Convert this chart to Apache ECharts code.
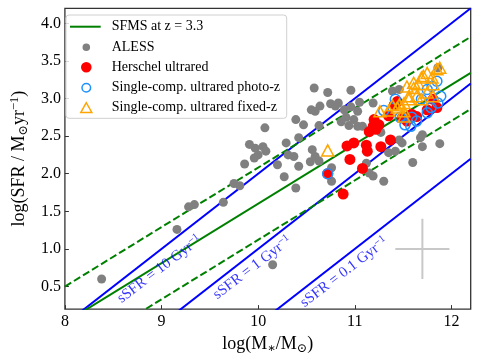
<!DOCTYPE html>
<html>
<head>
<meta charset="utf-8">
<script src="https://cdn.jsdelivr.net/npm/echarts@6/dist/echarts.min.js"></script>
<style>html,body{margin:0;padding:0;background:#fff}#c{width:480px;height:360px}</style>
</head>
<body>
<div id="c"></div>
<script>
// ---- tick labels ----
const xTicks = [8, 9, 10, 11, 12];
const yTicks = [0.5, 1.0, 1.5, 2.0, 2.5, 3.0, 3.5, 4.0];

// ---- reference lines (endpoints at x = 8 and x = 12.2) ----
const lineX = [8, 12.2];
const sfmsY = [0.02, 3.34];
const sfmsUpperY = [0.50, 3.82];
const sfmsLowerY = [-0.46, 2.86];
const ssfr10Y = [0.0, 4.2];
const ssfr1Y = [-1.0, 3.2];
const ssfr01Y = [-2.0, 2.2];

// ---- sSFR annotation labels ----
const ssfrLabelText = ['10', '1', '0.1'];
const ssfrLabelX = [8.98, 9.94, 10.89];
const ssfrLabelY = [0.73, 0.75, 0.69];

// ---- representative error bar ----
const errCenter = [11.70, 1.00];
const errHalf = [0.28, 0.40];

// ---- ALESS ----
const alessX = [8.38,9.16,9.28,9.34,9.64,9.75,9.81,9.86,9.91,9.96,
  10.07,10.15,10.58,10.72,10.96,10.55,10.59,10.39,10.47,10.29,
  10.05,10.08,10.00,9.97,10.20,10.27,10.42,10.54,10.39,10.76,10.76,
  11.12,11.19,11.30,11.35,11.42,10.83,11.19,11.39,
  10.89,10.96,11.03,10.91,10.99,10.94,11.03,10.86,
  11.05,10.75,10.80,10.64,10.63,10.42,10.56,10.63,10.31,10.37,
  11.49,11.70,11.70,11.88,11.60,11.15,11.27,11.86,11.46,11.68,11.08,11.46,10.59];
const alessY = [0.60,1.26,1.56,1.59,1.62,1.87,1.84,2.13,2.39,2.21,
  2.61,0.79,3.14,3.08,3.11,2.85,2.83,2.72,2.65,2.41,
  2.36,2.30,2.25,2.34,2.12,1.96,2.10,2.16,1.81,2.08,1.90,
  2.14,1.97,1.90,2.28,2.30,2.94,2.94,3.10,
  2.85,2.89,2.83,2.75,2.72,2.64,2.63,2.69,
  2.95,2.93,2.90,2.90,2.64,2.48,2.32,2.17,2.25,2.23,
  2.41,2.52,2.36,2.40,2.15,2.01,2.55,3.41,3.12,2.48,2.63,2.45,2.23];

// ---- Herschel ultrared ----
const herschelX = [10.72,10.95,11.08,10.88,10.92,10.99,11.12,11.13,11.27,11.37,
  11.15,11.19,11.22,11.25,11.20,11.41,11.44,11.59,11.64,11.75,
  11.85,11.49,11.54,11.81,11.35];
const herschelY = [2.00,2.19,2.07,1.73,2.37,2.41,2.38,2.30,2.36,2.45,
  2.56,2.63,2.59,2.65,2.72,2.92,2.96,2.79,2.76,2.85,
  2.88,2.74,2.70,2.99,2.77];

// ---- Single-comp. ultrared photo-z ----
const photoX = [10.72,11.52,11.58,11.64,11.75,11.79,11.86,11.69,11.75,11.80,11.85,11.47,11.42,11.89,11.30,11.59];
const photoY = [2.00,2.65,2.63,2.70,2.81,2.88,2.94,2.99,3.12,3.16,3.23,2.75,2.99,3.03,2.84,2.75];

// ---- Single-comp. ultrared fixed-z ----
const fixedX = [10.72,11.26,11.35,11.44,11.51,11.51,11.51,11.56,11.61,11.66,
  11.71,11.75,11.80,11.85,11.81,11.75,11.64,11.69,11.46,11.81,
  11.54,11.61,11.69,11.88,11.56,11.39];
const fixedY = [2.31,2.83,2.84,2.88,2.94,2.83,2.76,3.03,3.14,3.19,
  3.30,3.34,3.28,3.39,3.19,3.08,3.03,2.99,2.92,3.03,
  3.16,3.21,3.28,3.41,2.99,2.91];

// ---- legend ----
const legendNames = ['SFMS at z = 3.3', 'ALESS', 'Herschel ultrared', 'Single-comp. ultrared photo-z', 'Single-comp. ultrared fixed-z'];

const FONT = "'Liberation Serif', 'DejaVu Serif', serif";
const zip = (a, b) => a.map((v, i) => [v, b[i]]);
const pair = (ys) => zip(lineX, ys);

const chart = echarts.init(document.getElementById('c'), null, {renderer: 'canvas'});

function lineSeries(ys, color, type) {
  return {
    type: 'line', data: pair(ys), showSymbol: false, symbol: 'none', silent: true,
    lineStyle: {color: color, width: 2, type: type || 'solid', dashOffset: 0},
    clip: true, z: 1
  };
}
const dashed = [7.4, 3.2];

const legendRowY = [26.7, 47.3, 67.3, 87.7, 107.7];
const legendTextX = 111.7;
const legendIconX = 86.3;

const option = {
  animation: false,
  backgroundColor: '#fff',
  grid: {left: 58.7, right: 9.3, top: 8.3, bottom: 50.7, show: true, borderColor: '#333', borderWidth: 1.3, backgroundColor: 'transparent'},
  xAxis: {
    type: 'value', min: 8, max: 12.2,
    axisLine: {show: false},
    splitLine: {show: false},
    axisTick: {show: true, inside: true, length: 4, customValues: xTicks, lineStyle: {color: '#333', width: 1}},
    axisLabel: {customValues: xTicks, fontSize: 16, fontFamily: FONT, color: '#000', margin: 5, formatter: v => String(v)},
    name: '{a|log(M}{s|∗}{a|/M}{s|⊙}{a|)}',
    nameLocation: 'middle', nameGap: 23,
    nameTextStyle: {
      fontFamily: FONT, color: '#000',
      rich: {
        a: {fontSize: 18, fontFamily: FONT, color: '#000', lineHeight: 22},
        s: {fontSize: 12.5, fontFamily: FONT, color: '#000', lineHeight: 14, verticalAlign: 'bottom'}
      }
    }
  },
  yAxis: {
    type: 'value', min: 0.2, max: 4.2,
    axisLine: {show: false},
    splitLine: {show: false},
    axisTick: {show: true, inside: true, length: 4, customValues: yTicks, lineStyle: {color: '#333', width: 1}},
    axisLabel: {customValues: yTicks, fontSize: 16, fontFamily: FONT, color: '#000', margin: 4, formatter: v => v.toFixed(1)},
    name: '{a|log(SFR / M}{s|⊙}{a|yr}{p|−1}{a|)}',
    nameLocation: 'middle', nameGap: 28, nameRotate: 90,
    nameTextStyle: {
      fontFamily: FONT, color: '#000',
      rich: {
        a: {fontSize: 18, fontFamily: FONT, color: '#000', lineHeight: 22},
        s: {fontSize: 12.5, fontFamily: FONT, color: '#000', lineHeight: 14, verticalAlign: 'bottom'},
        p: {fontSize: 12.5, fontFamily: FONT, color: '#000', lineHeight: 14, verticalAlign: 'top'}
      }
    }
  },
  series: [
    lineSeries(ssfr10Y, '#0000ff'),
    lineSeries(ssfr1Y, '#0000ff'),
    lineSeries(ssfr01Y, '#0000ff'),
    lineSeries(sfmsY, '#008000'),
    lineSeries(sfmsUpperY, '#008000', dashed),
    lineSeries(sfmsLowerY, '#008000', dashed),
    {type: 'line', silent: true, showSymbol: false, symbol: 'none', z: 1,
     data: [[errCenter[0] - errHalf[0], errCenter[1]], [errCenter[0] + errHalf[0], errCenter[1]]],
     lineStyle: {color: '#c8c8c8', width: 2}},
    {type: 'line', silent: true, showSymbol: false, symbol: 'none', z: 1,
     data: [[errCenter[0], errCenter[1] - errHalf[1]], [errCenter[0], errCenter[1] + errHalf[1]]],
     lineStyle: {color: '#c8c8c8', width: 2}},
    {type: 'scatter', name: 'ALESS', data: zip(alessX, alessY), symbol: 'circle', symbolSize: 9,
     itemStyle: {color: '#808080', opacity: 1}, z: 3},
    {type: 'scatter', name: 'Herschel ultrared', data: zip(herschelX, herschelY), symbol: 'circle', symbolSize: 11,
     itemStyle: {color: '#ff0000', opacity: 1}, z: 4},
    {type: 'scatter', name: 'Single-comp. ultrared photo-z', data: zip(photoX, photoY), symbol: 'circle', symbolSize: 10,
     itemStyle: {color: 'rgba(0,0,0,0)', borderColor: '#1e90ff', borderWidth: 1.5, opacity: 1}, z: 5},
    {type: 'scatter', name: 'Single-comp. ultrared fixed-z', data: zip(fixedX, fixedY), symbol: 'triangle', symbolSize: [12, 11],
     itemStyle: {color: 'rgba(0,0,0,0)', borderColor: '#ffa500', borderWidth: 1.5, opacity: 1}, z: 6},
    {type: 'scatter', silent: true, symbolSize: 0, z: 7,
     data: ssfrLabelText.map((t, i) => ({value: [ssfrLabelX[i], ssfrLabelY[i]], name: t})),
     label: {
       show: true, position: 'inside', rotate: 37.4,
       formatter: p => '{a|sSFR = ' + p.name + ' Gyr}{p|−1}',
       rich: {
         a: {fontSize: 15, fontFamily: FONT, color: '#0000ff', lineHeight: 18},
         p: {fontSize: 10.5, fontFamily: FONT, color: '#0000ff', lineHeight: 12, verticalAlign: 'top'}
       }
     }}
  ],
  graphic: {
    elements: [
      {type: 'rect', shape: {x: 66, y: 15, width: 220.7, height: 103.3, r: 3}, z: 50,
       style: {fill: 'rgba(255,255,255,0.8)', stroke: '#d0d0d0', lineWidth: 1}},
      {type: 'line', shape: {x1: 70, y1: legendRowY[0], x2: 100.7, y2: legendRowY[0]}, z: 51,
       style: {stroke: '#008000', lineWidth: 2}},
      {type: 'circle', shape: {cx: legendIconX, cy: legendRowY[1], r: 3.8}, z: 51, style: {fill: '#808080'}},
      {type: 'circle', shape: {cx: legendIconX, cy: legendRowY[2], r: 5.3}, z: 51, style: {fill: '#ff0000'}},
      {type: 'circle', shape: {cx: legendIconX, cy: legendRowY[3], r: 4.3}, z: 51, style: {fill: 'none', stroke: '#1e90ff', lineWidth: 1.5}},
      {type: 'polygon', shape: {points: [[legendIconX, legendRowY[4] - 5], [legendIconX - 5.5, legendRowY[4] + 4.8], [legendIconX + 5.5, legendRowY[4] + 4.8]]}, z: 51,
       style: {fill: 'none', stroke: '#ffa500', lineWidth: 1.5}},
    ].concat(legendNames.map((n, i) => ({
      type: 'text', x: legendTextX, y: legendRowY[i], z: 52,
      style: {text: n, fontSize: 14, fontFamily: FONT, fill: '#000', verticalAlign: 'middle', align: 'left'}
    })))
  }
};
chart.setOption(option);
</script>
</body>
</html>
